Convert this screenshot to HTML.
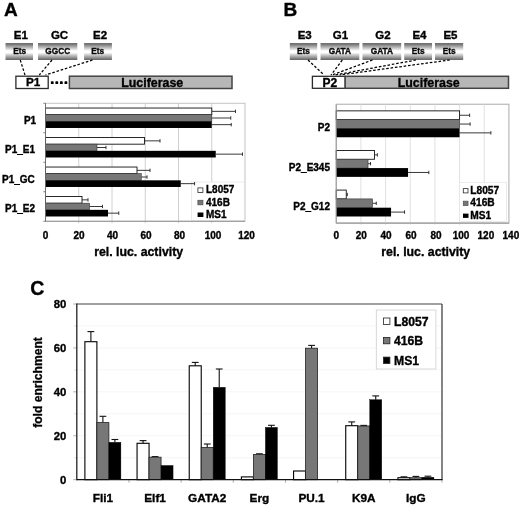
<!DOCTYPE html>
<html><head><meta charset="utf-8"><title>Figure</title>
<style>html,body{margin:0;padding:0;background:#fff;}body{width:520px;height:508px;overflow:hidden;}svg{display:block;font-family:"Liberation Sans", sans-serif;filter:blur(0.35px);}text{font-family:"Liberation Sans",sans-serif;}</style></head><body>
<svg width="520" height="508" viewBox="0 0 520 508">
<defs><linearGradient id="gb" x1="0" y1="0" x2="0" y2="1"><stop offset="0" stop-color="#6c6c6c"/><stop offset="0.08" stop-color="#787878"/><stop offset="0.46" stop-color="#ffffff"/><stop offset="0.56" stop-color="#ffffff"/><stop offset="0.94" stop-color="#767676"/><stop offset="1" stop-color="#666666"/></linearGradient></defs>
<rect x="0" y="0" width="520" height="508" fill="#fff"/>
<text x="3.9" y="16.3" font-size="19" text-anchor="start" font-weight="bold" fill="#000" stroke="#000" stroke-width="0.35" >A</text>
<text x="283.4" y="16.2" font-size="19" text-anchor="start" font-weight="bold" fill="#000" stroke="#000" stroke-width="0.35" >B</text>
<text x="30.2" y="295.4" font-size="19.5" text-anchor="start" font-weight="bold" fill="#000" stroke="#000" stroke-width="0.35" >C</text>
<rect x="5.50" y="43.00" width="27.50" height="17.00" fill="url(#gb)" stroke="none" stroke-width="1" />
<text x="19.70" y="54.1" font-size="8.3" text-anchor="middle" font-weight="bold" fill="#0a0a0a" stroke="#0a0a0a" stroke-width="0.35" >Ets</text>
<text x="20.80" y="39.3" font-size="11.5" text-anchor="middle" font-weight="bold" fill="#000" stroke="#000" stroke-width="0.35" >E1</text>
<rect x="38.00" y="43.00" width="39.30" height="17.00" fill="url(#gb)" stroke="none" stroke-width="1" />
<text x="57.70" y="54.1" font-size="8.3" text-anchor="middle" font-weight="bold" fill="#0a0a0a" stroke="#0a0a0a" stroke-width="0.35" >GGCC</text>
<text x="59.50" y="39.3" font-size="11.5" text-anchor="middle" font-weight="bold" fill="#000" stroke="#000" stroke-width="0.35" >GC</text>
<rect x="84.10" y="43.00" width="27.80" height="17.00" fill="url(#gb)" stroke="none" stroke-width="1" />
<text x="97.70" y="54.1" font-size="8.3" text-anchor="middle" font-weight="bold" fill="#0a0a0a" stroke="#0a0a0a" stroke-width="0.35" >Ets</text>
<text x="100.10" y="39.3" font-size="11.5" text-anchor="middle" font-weight="bold" fill="#000" stroke="#000" stroke-width="0.35" >E2</text>
<line x1="20.25" y1="60.00" x2="25.00" y2="75.00" stroke="#000" stroke-width="1.25" stroke-dasharray="2.6 1.8"/>
<line x1="52.00" y1="60.00" x2="39.30" y2="75.00" stroke="#000" stroke-width="1.25" stroke-dasharray="2.6 1.8"/>
<line x1="92.50" y1="60.00" x2="45.50" y2="75.00" stroke="#000" stroke-width="1.25" stroke-dasharray="2.6 1.8"/>
<rect x="15.90" y="76.20" width="32.30" height="12.30" fill="#fff" stroke="#2a2a2a" stroke-width="1.3" />
<text x="33.1" y="86.4" font-size="11.7" text-anchor="middle" font-weight="bold" fill="#000" stroke="#000" stroke-width="0.35" >P1</text>
<rect x="50.85" y="81.30" width="2.80" height="2.80" fill="#000" stroke="none" stroke-width="1" rx="0.7"/>
<rect x="55.40" y="81.30" width="2.80" height="2.80" fill="#000" stroke="none" stroke-width="1" rx="0.7"/>
<rect x="59.95" y="81.30" width="2.80" height="2.80" fill="#000" stroke="none" stroke-width="1" rx="0.7"/>
<rect x="64.50" y="81.30" width="2.80" height="2.80" fill="#000" stroke="none" stroke-width="1" rx="0.7"/>
<rect x="69.40" y="76.20" width="162.60" height="12.30" fill="#b7b7b7" stroke="#444" stroke-width="1.5" />
<text x="152.2" y="86.7" font-size="12.4" text-anchor="middle" font-weight="bold" fill="#000" stroke="#000" stroke-width="0.35" >Luciferase</text>
<rect x="289.80" y="43.00" width="27.40" height="17.00" fill="url(#gb)" stroke="none" stroke-width="1" />
<text x="303.50" y="54.1" font-size="8.3" text-anchor="middle" font-weight="bold" fill="#0a0a0a" stroke="#0a0a0a" stroke-width="0.35" >Ets</text>
<text x="304.75" y="39.3" font-size="11.5" text-anchor="middle" font-weight="bold" fill="#000" stroke="#000" stroke-width="0.35" >E3</text>
<rect x="320.50" y="43.00" width="38.80" height="17.00" fill="url(#gb)" stroke="none" stroke-width="1" />
<text x="339.90" y="54.1" font-size="8.3" text-anchor="middle" font-weight="bold" fill="#0a0a0a" stroke="#0a0a0a" stroke-width="0.35" >GATA</text>
<text x="340.40" y="39.3" font-size="11.5" text-anchor="middle" font-weight="bold" fill="#000" stroke="#000" stroke-width="0.35" >G1</text>
<rect x="362.50" y="43.00" width="38.70" height="17.00" fill="url(#gb)" stroke="none" stroke-width="1" />
<text x="381.85" y="54.1" font-size="8.3" text-anchor="middle" font-weight="bold" fill="#0a0a0a" stroke="#0a0a0a" stroke-width="0.35" >GATA</text>
<text x="383.00" y="39.3" font-size="11.5" text-anchor="middle" font-weight="bold" fill="#000" stroke="#000" stroke-width="0.35" >G2</text>
<rect x="404.20" y="43.00" width="27.80" height="17.00" fill="url(#gb)" stroke="none" stroke-width="1" />
<text x="418.10" y="54.1" font-size="8.3" text-anchor="middle" font-weight="bold" fill="#0a0a0a" stroke="#0a0a0a" stroke-width="0.35" >Ets</text>
<text x="419.50" y="39.3" font-size="11.5" text-anchor="middle" font-weight="bold" fill="#000" stroke="#000" stroke-width="0.35" >E4</text>
<rect x="435.00" y="43.00" width="28.20" height="17.00" fill="url(#gb)" stroke="none" stroke-width="1" />
<text x="449.10" y="54.1" font-size="8.3" text-anchor="middle" font-weight="bold" fill="#0a0a0a" stroke="#0a0a0a" stroke-width="0.35" >Ets</text>
<text x="450.50" y="39.3" font-size="11.5" text-anchor="middle" font-weight="bold" fill="#000" stroke="#000" stroke-width="0.35" >E5</text>
<line x1="308.00" y1="60.00" x2="324.00" y2="75.00" stroke="#000" stroke-width="1.25" stroke-dasharray="2.6 1.8"/>
<line x1="342.30" y1="60.00" x2="331.00" y2="75.00" stroke="#000" stroke-width="1.25" stroke-dasharray="2.6 1.8"/>
<line x1="372.50" y1="60.00" x2="332.00" y2="75.00" stroke="#000" stroke-width="1.25" stroke-dasharray="2.6 1.8"/>
<line x1="416.00" y1="60.00" x2="335.00" y2="75.00" stroke="#000" stroke-width="1.25" stroke-dasharray="2.6 1.8"/>
<line x1="449.80" y1="60.00" x2="339.50" y2="75.00" stroke="#000" stroke-width="1.25" stroke-dasharray="2.6 1.8"/>
<rect x="312.40" y="76.30" width="32.80" height="12.00" fill="#fff" stroke="#2a2a2a" stroke-width="1.3" />
<text x="329.8" y="86.6" font-size="12" text-anchor="middle" font-weight="bold" fill="#000" stroke="#000" stroke-width="0.35" >P2</text>
<rect x="345.20" y="76.30" width="163.30" height="12.00" fill="#b7b7b7" stroke="#444" stroke-width="1.5" />
<text x="428.7" y="86.7" font-size="12.4" text-anchor="middle" font-weight="bold" fill="#000" stroke="#000" stroke-width="0.35" >Luciferase</text>
<rect x="45.50" y="103.25" width="199.50" height="118.00" fill="#fff" stroke="#bdbdbd" stroke-width="0.9" />
<line x1="78.75" y1="103.25" x2="78.75" y2="223.25" stroke="#c4c4c4" stroke-width="0.8" />
<line x1="112.00" y1="103.25" x2="112.00" y2="223.25" stroke="#c4c4c4" stroke-width="0.8" />
<line x1="145.25" y1="103.25" x2="145.25" y2="223.25" stroke="#c4c4c4" stroke-width="0.8" />
<line x1="178.50" y1="103.25" x2="178.50" y2="223.25" stroke="#c4c4c4" stroke-width="0.8" />
<line x1="211.75" y1="103.25" x2="211.75" y2="223.25" stroke="#c4c4c4" stroke-width="0.8" />
<rect x="191.50" y="182.00" width="52.70" height="38.30" fill="#fff" stroke="#e2e2e2" stroke-width="0.7" />
<rect x="197.90" y="187.90" width="5.00" height="4.50" fill="#fff" stroke="#2a2a2a" stroke-width="0.8" />
<text x="206.0" y="193.3" font-size="10" text-anchor="start" font-weight="bold" fill="#000" stroke="#000" stroke-width="0.35" >L8057</text>
<rect x="197.90" y="200.30" width="5.00" height="4.50" fill="#777" stroke="#555" stroke-width="0.8" />
<text x="206.0" y="205.7" font-size="10" text-anchor="start" font-weight="bold" fill="#000" stroke="#000" stroke-width="0.35" >416B</text>
<rect x="197.60" y="212.50" width="5.80" height="4.50" fill="#000" stroke="none" stroke-width="1" />
<text x="206.0" y="217.9" font-size="10" text-anchor="start" font-weight="bold" fill="#000" stroke="#000" stroke-width="0.35" >MS1</text>
<line x1="211.75" y1="111.35" x2="235.50" y2="111.35" stroke="#222" stroke-width="0.9" />
<line x1="235.50" y1="109.65" x2="235.50" y2="113.05" stroke="#222" stroke-width="0.9" />
<rect x="45.50" y="108.03" width="166.25" height="6.65" fill="#fff" stroke="#111" stroke-width="0.9" />
<line x1="211.75" y1="118.00" x2="230.75" y2="118.00" stroke="#222" stroke-width="0.9" />
<line x1="230.75" y1="116.30" x2="230.75" y2="119.70" stroke="#222" stroke-width="0.9" />
<rect x="45.50" y="114.68" width="166.25" height="6.65" fill="#777" stroke="#333" stroke-width="0.6" />
<line x1="211.75" y1="124.65" x2="231.25" y2="124.65" stroke="#222" stroke-width="0.9" />
<line x1="231.25" y1="122.95" x2="231.25" y2="126.35" stroke="#222" stroke-width="0.9" />
<rect x="45.50" y="121.33" width="166.25" height="6.65" fill="#000" stroke="none" stroke-width="1" />
<text x="36.20" y="123.90" font-size="10" text-anchor="end" font-weight="bold" fill="#000" stroke="#000" stroke-width="0.35" >P1</text>
<line x1="144.50" y1="140.85" x2="160.00" y2="140.85" stroke="#222" stroke-width="0.9" />
<line x1="160.00" y1="139.15" x2="160.00" y2="142.55" stroke="#222" stroke-width="0.9" />
<rect x="45.50" y="137.53" width="99.00" height="6.65" fill="#fff" stroke="#111" stroke-width="0.9" />
<line x1="97.00" y1="147.50" x2="106.00" y2="147.50" stroke="#222" stroke-width="0.9" />
<line x1="106.00" y1="145.80" x2="106.00" y2="149.20" stroke="#222" stroke-width="0.9" />
<rect x="45.50" y="144.18" width="51.50" height="6.65" fill="#777" stroke="#333" stroke-width="0.6" />
<line x1="215.75" y1="154.15" x2="242.50" y2="154.15" stroke="#222" stroke-width="0.9" />
<line x1="242.50" y1="152.45" x2="242.50" y2="155.85" stroke="#222" stroke-width="0.9" />
<rect x="45.50" y="150.83" width="170.25" height="6.65" fill="#000" stroke="none" stroke-width="1" />
<text x="35.00" y="153.40" font-size="10" text-anchor="end" font-weight="bold" fill="#000" stroke="#000" stroke-width="0.35" >P1_E1</text>
<line x1="137.00" y1="170.35" x2="150.00" y2="170.35" stroke="#222" stroke-width="0.9" />
<line x1="150.00" y1="168.65" x2="150.00" y2="172.05" stroke="#222" stroke-width="0.9" />
<rect x="45.50" y="167.03" width="91.50" height="6.65" fill="#fff" stroke="#111" stroke-width="0.9" />
<line x1="141.25" y1="177.00" x2="147.00" y2="177.00" stroke="#222" stroke-width="0.9" />
<line x1="147.00" y1="175.30" x2="147.00" y2="178.70" stroke="#222" stroke-width="0.9" />
<rect x="45.50" y="173.68" width="95.75" height="6.65" fill="#777" stroke="#333" stroke-width="0.6" />
<line x1="180.75" y1="183.65" x2="194.60" y2="183.65" stroke="#222" stroke-width="0.9" />
<line x1="194.60" y1="181.95" x2="194.60" y2="185.35" stroke="#222" stroke-width="0.9" />
<rect x="45.50" y="180.33" width="135.25" height="6.65" fill="#000" stroke="none" stroke-width="1" />
<text x="34.80" y="182.90" font-size="10" text-anchor="end" font-weight="bold" fill="#000" stroke="#000" stroke-width="0.35" >P1_GC</text>
<line x1="82.00" y1="199.85" x2="88.00" y2="199.85" stroke="#222" stroke-width="0.9" />
<line x1="88.00" y1="198.15" x2="88.00" y2="201.55" stroke="#222" stroke-width="0.9" />
<rect x="45.50" y="196.53" width="36.50" height="6.65" fill="#fff" stroke="#111" stroke-width="0.9" />
<line x1="89.50" y1="206.50" x2="102.50" y2="206.50" stroke="#222" stroke-width="0.9" />
<line x1="102.50" y1="204.80" x2="102.50" y2="208.20" stroke="#222" stroke-width="0.9" />
<rect x="45.50" y="203.18" width="44.00" height="6.65" fill="#777" stroke="#333" stroke-width="0.6" />
<line x1="108.00" y1="213.15" x2="118.75" y2="213.15" stroke="#222" stroke-width="0.9" />
<line x1="118.75" y1="211.45" x2="118.75" y2="214.85" stroke="#222" stroke-width="0.9" />
<rect x="45.50" y="209.83" width="62.50" height="6.65" fill="#000" stroke="none" stroke-width="1" />
<text x="35.00" y="212.40" font-size="10" text-anchor="end" font-weight="bold" fill="#000" stroke="#000" stroke-width="0.35" >P1_E2</text>
<line x1="45.50" y1="103.25" x2="45.50" y2="221.25" stroke="#666" stroke-width="0.9" />
<line x1="45.50" y1="221.25" x2="245.00" y2="221.25" stroke="#8a8a8a" stroke-width="0.9" />
<line x1="43.30" y1="103.25" x2="45.50" y2="103.25" stroke="#666" stroke-width="0.8" />
<line x1="43.30" y1="132.75" x2="45.50" y2="132.75" stroke="#666" stroke-width="0.8" />
<line x1="43.30" y1="162.25" x2="45.50" y2="162.25" stroke="#666" stroke-width="0.8" />
<line x1="43.30" y1="191.75" x2="45.50" y2="191.75" stroke="#666" stroke-width="0.8" />
<line x1="43.30" y1="221.25" x2="45.50" y2="221.25" stroke="#666" stroke-width="0.8" />
<text x="45.50" y="238.6" font-size="10" text-anchor="middle" font-weight="bold" fill="#000" stroke="#000" stroke-width="0.35" >0</text>
<text x="79.01" y="238.6" font-size="10" text-anchor="middle" font-weight="bold" fill="#000" stroke="#000" stroke-width="0.35" >20</text>
<text x="112.52" y="238.6" font-size="10" text-anchor="middle" font-weight="bold" fill="#000" stroke="#000" stroke-width="0.35" >40</text>
<text x="146.03" y="238.6" font-size="10" text-anchor="middle" font-weight="bold" fill="#000" stroke="#000" stroke-width="0.35" >60</text>
<text x="179.54" y="238.6" font-size="10" text-anchor="middle" font-weight="bold" fill="#000" stroke="#000" stroke-width="0.35" >80</text>
<text x="213.05" y="238.6" font-size="10" text-anchor="middle" font-weight="bold" fill="#000" stroke="#000" stroke-width="0.35" >100</text>
<text x="246.56" y="238.6" font-size="10" text-anchor="middle" font-weight="bold" fill="#000" stroke="#000" stroke-width="0.35" >120</text>
<text x="138.65" y="256.0" font-size="12.3" text-anchor="middle" font-weight="bold" fill="#000" stroke="#000" stroke-width="0.35" >rel. luc. activity</text>
<rect x="336.25" y="104.25" width="172.65" height="118.85" fill="#fff" stroke="#b8b8b8" stroke-width="1.2" />
<line x1="360.91" y1="104.25" x2="360.91" y2="225.10" stroke="#d9d9d9" stroke-width="0.8" />
<line x1="385.58" y1="104.25" x2="385.58" y2="225.10" stroke="#d9d9d9" stroke-width="0.8" />
<line x1="410.24" y1="104.25" x2="410.24" y2="225.10" stroke="#d9d9d9" stroke-width="0.8" />
<line x1="434.91" y1="104.25" x2="434.91" y2="225.10" stroke="#d9d9d9" stroke-width="0.8" />
<line x1="459.57" y1="104.25" x2="459.57" y2="225.10" stroke="#d9d9d9" stroke-width="0.8" />
<line x1="484.24" y1="104.25" x2="484.24" y2="225.10" stroke="#d9d9d9" stroke-width="0.8" />
<rect x="459.40" y="182.30" width="47.10" height="39.30" fill="#fff" stroke="#e2e2e2" stroke-width="0.7" />
<rect x="463.30" y="188.60" width="4.70" height="4.30" fill="#fff" stroke="#2a2a2a" stroke-width="0.8" />
<text x="470.3" y="193.8" font-size="10.2" text-anchor="start" font-weight="bold" fill="#000" stroke="#000" stroke-width="0.35" >L8057</text>
<rect x="463.30" y="201.20" width="4.70" height="4.30" fill="#777" stroke="#555" stroke-width="0.8" />
<text x="470.3" y="206.4" font-size="10.2" text-anchor="start" font-weight="bold" fill="#000" stroke="#000" stroke-width="0.35" >416B</text>
<rect x="463.00" y="213.60" width="5.50" height="4.30" fill="#000" stroke="none" stroke-width="1" />
<text x="470.3" y="218.8" font-size="10.2" text-anchor="start" font-weight="bold" fill="#000" stroke="#000" stroke-width="0.35" >MS1</text>
<line x1="459.57" y1="115.26" x2="469.62" y2="115.26" stroke="#222" stroke-width="0.9" />
<line x1="469.62" y1="113.56" x2="469.62" y2="116.96" stroke="#222" stroke-width="0.9" />
<rect x="336.25" y="110.86" width="123.32" height="8.80" fill="#fff" stroke="#111" stroke-width="0.9" />
<line x1="459.57" y1="124.06" x2="470.12" y2="124.06" stroke="#222" stroke-width="0.9" />
<line x1="470.12" y1="122.36" x2="470.12" y2="125.76" stroke="#222" stroke-width="0.9" />
<rect x="336.25" y="119.66" width="123.32" height="8.80" fill="#777" stroke="#333" stroke-width="0.6" />
<line x1="459.57" y1="132.86" x2="490.88" y2="132.86" stroke="#222" stroke-width="0.9" />
<line x1="490.88" y1="131.16" x2="490.88" y2="134.56" stroke="#222" stroke-width="0.9" />
<rect x="336.25" y="128.46" width="123.32" height="8.80" fill="#000" stroke="none" stroke-width="1" />
<text x="330.00" y="131.06" font-size="10" text-anchor="end" font-weight="bold" fill="#000" stroke="#000" stroke-width="0.35" >P2</text>
<line x1="374.53" y1="154.88" x2="377.34" y2="154.88" stroke="#222" stroke-width="0.9" />
<line x1="377.34" y1="153.18" x2="377.34" y2="156.57" stroke="#222" stroke-width="0.9" />
<rect x="336.25" y="150.47" width="38.28" height="8.80" fill="#fff" stroke="#111" stroke-width="0.9" />
<line x1="368.03" y1="163.68" x2="370.53" y2="163.68" stroke="#222" stroke-width="0.9" />
<line x1="370.53" y1="161.98" x2="370.53" y2="165.38" stroke="#222" stroke-width="0.9" />
<rect x="336.25" y="159.28" width="31.78" height="8.80" fill="#777" stroke="#333" stroke-width="0.6" />
<line x1="408.06" y1="172.47" x2="428.83" y2="172.47" stroke="#222" stroke-width="0.9" />
<line x1="428.83" y1="170.78" x2="428.83" y2="174.17" stroke="#222" stroke-width="0.9" />
<rect x="336.25" y="168.07" width="71.81" height="8.80" fill="#000" stroke="none" stroke-width="1" />
<text x="330.00" y="170.68" font-size="10" text-anchor="end" font-weight="bold" fill="#000" stroke="#000" stroke-width="0.35" >P2_E345</text>
<line x1="346.26" y1="194.49" x2="347.31" y2="194.49" stroke="#222" stroke-width="0.9" />
<line x1="347.31" y1="192.79" x2="347.31" y2="196.19" stroke="#222" stroke-width="0.9" />
<rect x="336.25" y="190.09" width="10.01" height="8.80" fill="#fff" stroke="#111" stroke-width="0.9" />
<line x1="372.53" y1="203.29" x2="376.28" y2="203.29" stroke="#222" stroke-width="0.9" />
<line x1="376.28" y1="201.59" x2="376.28" y2="204.99" stroke="#222" stroke-width="0.9" />
<rect x="336.25" y="198.89" width="36.28" height="8.80" fill="#777" stroke="#333" stroke-width="0.6" />
<line x1="391.05" y1="212.09" x2="404.56" y2="212.09" stroke="#222" stroke-width="0.9" />
<line x1="404.56" y1="210.39" x2="404.56" y2="213.79" stroke="#222" stroke-width="0.9" />
<rect x="336.25" y="207.69" width="54.80" height="8.80" fill="#000" stroke="none" stroke-width="1" />
<text x="330.00" y="210.29" font-size="10" text-anchor="end" font-weight="bold" fill="#000" stroke="#000" stroke-width="0.35" >P2_G12</text>
<line x1="336.25" y1="104.25" x2="336.25" y2="223.10" stroke="#9a9a9a" stroke-width="0.9" />
<line x1="336.25" y1="223.10" x2="508.90" y2="223.10" stroke="#8a8a8a" stroke-width="0.9" />
<text x="336.25" y="239.4" font-size="10" text-anchor="middle" font-weight="bold" fill="#000" stroke="#000" stroke-width="0.35" >0</text>
<text x="361.19" y="239.4" font-size="10" text-anchor="middle" font-weight="bold" fill="#000" stroke="#000" stroke-width="0.35" >20</text>
<text x="386.14" y="239.4" font-size="10" text-anchor="middle" font-weight="bold" fill="#000" stroke="#000" stroke-width="0.35" >40</text>
<text x="411.08" y="239.4" font-size="10" text-anchor="middle" font-weight="bold" fill="#000" stroke="#000" stroke-width="0.35" >60</text>
<text x="436.03" y="239.4" font-size="10" text-anchor="middle" font-weight="bold" fill="#000" stroke="#000" stroke-width="0.35" >80</text>
<text x="460.97" y="239.4" font-size="10" text-anchor="middle" font-weight="bold" fill="#000" stroke="#000" stroke-width="0.35" >100</text>
<text x="485.92" y="239.4" font-size="10" text-anchor="middle" font-weight="bold" fill="#000" stroke="#000" stroke-width="0.35" >120</text>
<text x="510.86" y="239.4" font-size="10" text-anchor="middle" font-weight="bold" fill="#000" stroke="#000" stroke-width="0.35" >140</text>
<text x="425.75" y="256.0" font-size="12.3" text-anchor="middle" font-weight="bold" fill="#000" stroke="#000" stroke-width="0.35" >rel. luc. activity</text>
<rect x="76.80" y="304.00" width="365.20" height="175.70" fill="#fff" stroke="none" stroke-width="1" />
<line x1="76.80" y1="457.74" x2="442.00" y2="457.74" stroke="#f2f2f2" stroke-width="0.8" />
<line x1="76.80" y1="413.81" x2="442.00" y2="413.81" stroke="#f2f2f2" stroke-width="0.8" />
<line x1="76.80" y1="369.89" x2="442.00" y2="369.89" stroke="#f2f2f2" stroke-width="0.8" />
<line x1="76.80" y1="325.96" x2="442.00" y2="325.96" stroke="#f2f2f2" stroke-width="0.8" />
<line x1="76.80" y1="435.77" x2="442.00" y2="435.77" stroke="#f2f2f2" stroke-width="0.8" />
<line x1="76.80" y1="391.85" x2="442.00" y2="391.85" stroke="#f2f2f2" stroke-width="0.8" />
<line x1="76.80" y1="347.92" x2="442.00" y2="347.92" stroke="#f2f2f2" stroke-width="0.8" />
<line x1="90.89" y1="341.70" x2="90.89" y2="331.60" stroke="#111" stroke-width="1.1" />
<line x1="87.49" y1="331.60" x2="94.29" y2="331.60" stroke="#111" stroke-width="1.1" />
<rect x="84.89" y="341.70" width="12.00" height="138.00" fill="#fff" stroke="#000" stroke-width="1.1" />
<line x1="102.89" y1="422.60" x2="102.89" y2="416.30" stroke="#111" stroke-width="1.1" />
<line x1="99.49" y1="416.30" x2="106.29" y2="416.30" stroke="#111" stroke-width="1.1" />
<rect x="96.89" y="422.60" width="12.00" height="57.10" fill="#777" stroke="#222" stroke-width="0.8" />
<line x1="114.89" y1="442.30" x2="114.89" y2="439.50" stroke="#111" stroke-width="1.1" />
<line x1="111.49" y1="439.50" x2="118.29" y2="439.50" stroke="#111" stroke-width="1.1" />
<rect x="108.89" y="442.30" width="12.00" height="37.40" fill="#000" stroke="#000" stroke-width="0.4" />
<text x="102.89" y="501.6" font-size="11.8" text-anchor="middle" font-weight="bold" fill="#000" stroke="#000" stroke-width="0.35" >Fli1</text>
<line x1="143.06" y1="443.30" x2="143.06" y2="440.60" stroke="#111" stroke-width="1.1" />
<line x1="139.66" y1="440.60" x2="146.46" y2="440.60" stroke="#111" stroke-width="1.1" />
<rect x="137.06" y="443.30" width="12.00" height="36.40" fill="#fff" stroke="#000" stroke-width="1.1" />
<line x1="155.06" y1="457.20" x2="155.06" y2="456.60" stroke="#111" stroke-width="1.1" />
<line x1="151.66" y1="456.60" x2="158.46" y2="456.60" stroke="#111" stroke-width="1.1" />
<rect x="149.06" y="457.20" width="12.00" height="22.50" fill="#777" stroke="#222" stroke-width="0.8" />
<rect x="161.06" y="465.50" width="12.00" height="14.20" fill="#000" stroke="#000" stroke-width="0.4" />
<text x="155.06" y="501.6" font-size="11.8" text-anchor="middle" font-weight="bold" fill="#000" stroke="#000" stroke-width="0.35" >Elf1</text>
<line x1="195.23" y1="365.80" x2="195.23" y2="362.40" stroke="#111" stroke-width="1.1" />
<line x1="191.83" y1="362.40" x2="198.63" y2="362.40" stroke="#111" stroke-width="1.1" />
<rect x="189.23" y="365.80" width="12.00" height="113.90" fill="#fff" stroke="#000" stroke-width="1.1" />
<line x1="207.23" y1="447.50" x2="207.23" y2="444.00" stroke="#111" stroke-width="1.1" />
<line x1="203.83" y1="444.00" x2="210.63" y2="444.00" stroke="#111" stroke-width="1.1" />
<rect x="201.23" y="447.50" width="12.00" height="32.20" fill="#777" stroke="#222" stroke-width="0.8" />
<line x1="219.23" y1="387.30" x2="219.23" y2="369.00" stroke="#111" stroke-width="1.1" />
<line x1="215.83" y1="369.00" x2="222.63" y2="369.00" stroke="#111" stroke-width="1.1" />
<rect x="213.23" y="387.30" width="12.00" height="92.40" fill="#000" stroke="#000" stroke-width="0.4" />
<text x="207.23" y="501.6" font-size="11.8" text-anchor="middle" font-weight="bold" fill="#000" stroke="#000" stroke-width="0.35" >GATA2</text>
<rect x="241.40" y="476.90" width="12.00" height="2.80" fill="#fff" stroke="#000" stroke-width="1.1" />
<line x1="259.40" y1="454.40" x2="259.40" y2="453.80" stroke="#111" stroke-width="1.1" />
<line x1="256.00" y1="453.80" x2="262.80" y2="453.80" stroke="#111" stroke-width="1.1" />
<rect x="253.40" y="454.40" width="12.00" height="25.30" fill="#777" stroke="#222" stroke-width="0.8" />
<line x1="271.40" y1="427.40" x2="271.40" y2="425.30" stroke="#111" stroke-width="1.1" />
<line x1="268.00" y1="425.30" x2="274.80" y2="425.30" stroke="#111" stroke-width="1.1" />
<rect x="265.40" y="427.40" width="12.00" height="52.30" fill="#000" stroke="#000" stroke-width="0.4" />
<text x="259.40" y="501.6" font-size="11.8" text-anchor="middle" font-weight="bold" fill="#000" stroke="#000" stroke-width="0.35" >Erg</text>
<rect x="293.57" y="471.00" width="12.00" height="8.70" fill="#fff" stroke="#000" stroke-width="1.1" />
<line x1="311.57" y1="348.20" x2="311.57" y2="345.40" stroke="#111" stroke-width="1.1" />
<line x1="308.17" y1="345.40" x2="314.97" y2="345.40" stroke="#111" stroke-width="1.1" />
<rect x="305.57" y="348.20" width="12.00" height="131.50" fill="#777" stroke="#222" stroke-width="0.8" />
<text x="311.57" y="501.6" font-size="11.8" text-anchor="middle" font-weight="bold" fill="#000" stroke="#000" stroke-width="0.35" >PU.1</text>
<line x1="351.74" y1="425.70" x2="351.74" y2="421.90" stroke="#111" stroke-width="1.1" />
<line x1="348.34" y1="421.90" x2="355.14" y2="421.90" stroke="#111" stroke-width="1.1" />
<rect x="345.74" y="425.70" width="12.00" height="54.00" fill="#fff" stroke="#000" stroke-width="1.1" />
<line x1="363.74" y1="426.00" x2="363.74" y2="425.40" stroke="#111" stroke-width="1.1" />
<line x1="360.34" y1="425.40" x2="367.14" y2="425.40" stroke="#111" stroke-width="1.1" />
<rect x="357.74" y="426.00" width="12.00" height="53.70" fill="#777" stroke="#222" stroke-width="0.8" />
<line x1="375.74" y1="399.70" x2="375.74" y2="395.90" stroke="#111" stroke-width="1.1" />
<line x1="372.34" y1="395.90" x2="379.14" y2="395.90" stroke="#111" stroke-width="1.1" />
<rect x="369.74" y="399.70" width="12.00" height="80.00" fill="#000" stroke="#000" stroke-width="0.4" />
<text x="363.74" y="501.6" font-size="11.8" text-anchor="middle" font-weight="bold" fill="#000" stroke="#000" stroke-width="0.35" >K9A</text>
<line x1="403.91" y1="477.72" x2="403.91" y2="476.84" stroke="#111" stroke-width="1.1" />
<line x1="400.51" y1="476.84" x2="407.31" y2="476.84" stroke="#111" stroke-width="1.1" />
<rect x="397.91" y="477.72" width="12.00" height="1.98" fill="#fff" stroke="#000" stroke-width="1.1" />
<line x1="415.91" y1="477.72" x2="415.91" y2="476.41" stroke="#111" stroke-width="1.1" />
<line x1="412.51" y1="476.41" x2="419.31" y2="476.41" stroke="#111" stroke-width="1.1" />
<rect x="409.91" y="477.72" width="12.00" height="1.98" fill="#777" stroke="#222" stroke-width="0.8" />
<line x1="427.91" y1="477.28" x2="427.91" y2="476.19" stroke="#111" stroke-width="1.1" />
<line x1="424.51" y1="476.19" x2="431.31" y2="476.19" stroke="#111" stroke-width="1.1" />
<rect x="421.91" y="477.28" width="12.00" height="2.42" fill="#000" stroke="#000" stroke-width="0.4" />
<text x="415.91" y="501.6" font-size="11.8" text-anchor="middle" font-weight="bold" fill="#000" stroke="#000" stroke-width="0.35" >IgG</text>
<line x1="128.97" y1="479.70" x2="128.97" y2="482.70" stroke="#9a9a9a" stroke-width="0.8" />
<line x1="181.14" y1="479.70" x2="181.14" y2="482.70" stroke="#9a9a9a" stroke-width="0.8" />
<line x1="233.31" y1="479.70" x2="233.31" y2="482.70" stroke="#9a9a9a" stroke-width="0.8" />
<line x1="285.49" y1="479.70" x2="285.49" y2="482.70" stroke="#9a9a9a" stroke-width="0.8" />
<line x1="337.66" y1="479.70" x2="337.66" y2="482.70" stroke="#9a9a9a" stroke-width="0.8" />
<line x1="389.83" y1="479.70" x2="389.83" y2="482.70" stroke="#9a9a9a" stroke-width="0.8" />
<line x1="442.00" y1="479.70" x2="442.00" y2="482.70" stroke="#9a9a9a" stroke-width="0.8" />
<line x1="73.20" y1="479.70" x2="76.80" y2="479.70" stroke="#9a9a9a" stroke-width="0.8" />
<text x="66.3" y="483.60" font-size="11.3" text-anchor="end" font-weight="bold" fill="#000" stroke="#000" stroke-width="0.35" >0</text>
<line x1="73.20" y1="435.77" x2="76.80" y2="435.77" stroke="#9a9a9a" stroke-width="0.8" />
<text x="66.3" y="439.67" font-size="11.3" text-anchor="end" font-weight="bold" fill="#000" stroke="#000" stroke-width="0.35" >20</text>
<line x1="73.20" y1="391.85" x2="76.80" y2="391.85" stroke="#9a9a9a" stroke-width="0.8" />
<text x="66.3" y="395.75" font-size="11.3" text-anchor="end" font-weight="bold" fill="#000" stroke="#000" stroke-width="0.35" >40</text>
<line x1="73.20" y1="347.92" x2="76.80" y2="347.92" stroke="#9a9a9a" stroke-width="0.8" />
<text x="66.3" y="351.82" font-size="11.3" text-anchor="end" font-weight="bold" fill="#000" stroke="#000" stroke-width="0.35" >60</text>
<line x1="73.20" y1="304.00" x2="76.80" y2="304.00" stroke="#9a9a9a" stroke-width="0.8" />
<text x="66.3" y="307.90" font-size="11.3" text-anchor="end" font-weight="bold" fill="#000" stroke="#000" stroke-width="0.35" >80</text>
<line x1="74.30" y1="457.74" x2="76.80" y2="457.74" stroke="#c8c8c8" stroke-width="0.7" />
<line x1="74.30" y1="413.81" x2="76.80" y2="413.81" stroke="#c8c8c8" stroke-width="0.7" />
<line x1="74.30" y1="369.89" x2="76.80" y2="369.89" stroke="#c8c8c8" stroke-width="0.7" />
<line x1="74.30" y1="325.96" x2="76.80" y2="325.96" stroke="#c8c8c8" stroke-width="0.7" />
<line x1="76.80" y1="304.00" x2="442.00" y2="304.00" stroke="#444" stroke-width="1.2" />
<line x1="442.00" y1="304.00" x2="442.00" y2="479.70" stroke="#333" stroke-width="1.2" />
<line x1="76.80" y1="303.40" x2="76.80" y2="480.30" stroke="#222" stroke-width="1.3" />
<line x1="76.80" y1="479.70" x2="442.60" y2="479.70" stroke="#111" stroke-width="1.3" />
<text transform="translate(41.7,382.5) rotate(-90)" font-size="12.1" font-weight="bold" text-anchor="middle" stroke="#000" stroke-width="0.3">fold enrichment</text>
<rect x="376.30" y="310.00" width="59.60" height="59.00" fill="#fff" stroke="#cfcfcf" stroke-width="0.8" />
<rect x="383.50" y="318.00" width="6.40" height="6.40" fill="#fff" stroke="#222" stroke-width="0.8" />
<text x="394.0" y="325.6" font-size="12.2" text-anchor="start" font-weight="bold" fill="#000" stroke="#000" stroke-width="0.35" >L8057</text>
<rect x="383.50" y="337.40" width="6.40" height="6.40" fill="#777" stroke="#222" stroke-width="0.8" />
<text x="394.0" y="345.0" font-size="12.2" text-anchor="start" font-weight="bold" fill="#000" stroke="#000" stroke-width="0.35" >416B</text>
<rect x="383.50" y="357.10" width="6.40" height="6.40" fill="#000" stroke="#222" stroke-width="0.8" />
<text x="394.0" y="364.7" font-size="12.2" text-anchor="start" font-weight="bold" fill="#000" stroke="#000" stroke-width="0.35" >MS1</text>
</svg></body></html>
